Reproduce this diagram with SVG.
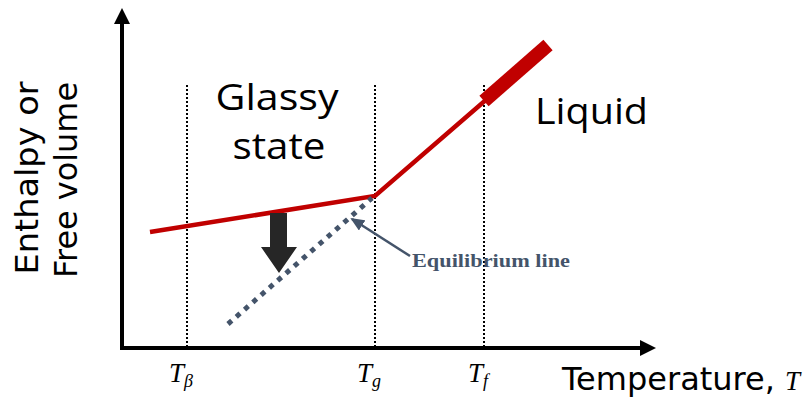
<svg xmlns="http://www.w3.org/2000/svg" width="811" height="398" viewBox="0 0 811 398">
<style>
.big{font-family:"Open Sans","Noto Sans",sans-serif;font-size:37px;fill:#000}
.ax{font-family:"DejaVu Sans","Noto Sans",sans-serif;font-size:32px;fill:#000}
.tl{font-family:"Liberation Serif",serif;font-style:italic;font-size:27px;fill:#000}
.sub{font-size:18px}
.vl{stroke:#000;stroke-width:2;stroke-dasharray:2 2;fill:none}
</style>
<defs>
<marker id="eh" markerWidth="14" markerHeight="12" refX="12" refY="6" orient="auto" markerUnits="userSpaceOnUse" viewBox="0 0 14 12">
<path d="M0,0 L14,6 L0,12 Z" fill="#44546A"/>
</marker>
</defs>
<rect width="811" height="398" fill="#fff"/>
<g id="axes">
<line x1="122" y1="349" x2="122" y2="14" stroke="#000" stroke-width="4"/>
<path d="M122,8 L114,24 L130,24 Z" fill="#000"/>
<line x1="120" y1="348" x2="642" y2="348" stroke="#000" stroke-width="4"/>
<path d="M656,348 L640,340 L640,356 Z" fill="#000"/>
</g>
<g id="guides">
<line class="vl" x1="187" y1="85" x2="187" y2="346"/>
<line class="vl" x1="375" y1="85" x2="375" y2="346"/>
<line class="vl" x1="484" y1="85" x2="484" y2="346"/>
</g>
<g id="curves">
<polyline points="150,232 375,196 487,99" fill="none" stroke="#C00000" stroke-width="4.5"/>
<line x1="484" y1="101" x2="548" y2="45" stroke="#C00000" stroke-width="14"/>
<line x1="228" y1="324" x2="372" y2="198" stroke="#44546A" stroke-width="5" stroke-dasharray="5 6"/>
</g>
<g id="arrow-down">
<path d="M270,213 L287,213 L287,247 L297,247 L279,273 L261,247 L270,247 Z" fill="#262626"/>
</g>
<g id="connectors">
<line x1="410" y1="256" x2="352" y2="219" stroke="#44546A" stroke-width="2.5" marker-end="url(#eh)"/>
</g>
<g id="labels">
<text class="big" x="277" y="110" text-anchor="middle" textLength="123" lengthAdjust="spacingAndGlyphs">Glassy</text>
<text class="big" x="279" y="159" text-anchor="middle" textLength="93" lengthAdjust="spacingAndGlyphs">state</text>
<text class="big" x="535" y="124" textLength="113" lengthAdjust="spacingAndGlyphs">Liquid</text>
<text font-family="'Liberation Serif',serif" font-weight="bold" font-size="18" fill="#44546A" x="412" y="267" textLength="158" lengthAdjust="spacingAndGlyphs">Equilibrium line</text>
<text class="ax" transform="translate(38,178) rotate(-90)" text-anchor="middle" textLength="193" lengthAdjust="spacingAndGlyphs">Enthalpy or</text>
<text class="ax" transform="translate(77,180) rotate(-90)" text-anchor="middle" textLength="196" lengthAdjust="spacingAndGlyphs">Free volume</text>
<text class="ax" x="562" y="390" font-size="29">Temperature, <tspan class="tl" font-size="30">T</tspan></text>
<text class="tl" x="169" y="382">T<tspan class="sub" dy="5">β</tspan></text>
<text class="tl" x="357" y="382">T<tspan class="sub" dy="5">g</tspan></text>
<text class="tl" x="468" y="382">T<tspan class="sub" dy="5">f</tspan></text>
</g>
</svg>
